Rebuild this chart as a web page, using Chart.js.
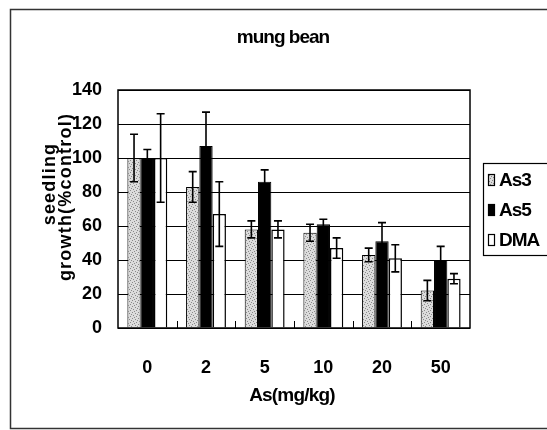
<!DOCTYPE html>
<html>
<head>
<meta charset="utf-8">
<script src="https://cdn.jsdelivr.net/npm/chart.js@4.4.0/dist/chart.umd.min.js"></script>
<style>
  html, body { margin: 0; padding: 0; background: #fff; }
  #wrap { width: 547px; height: 430px; position: relative; }
</style>
</head>
<body>
<div id="wrap"><canvas id="chart" width="547" height="430"></canvas></div>
<script>
/* data */
const doses = ["0", "2", "5", "10", "20", "50"];
const as3 = [100, 83, 58, 56, 43, 22];
const as3Err = [14, 9, 5, 5, 4, 6];
const as5 = [100, 107, 86, 61, 51, 40];
const as5Err = [5, 20, 7, 3, 11, 8];
const dma = [100, 67, 58, 47, 41, 29];
const dmaErr = [26, 19, 5, 6, 8, 3];
const yTicks = [0, 20, 40, 60, 80, 100, 120, 140];

const FONT = "'Liberation Sans', Arial, sans-serif";

/* stippled grey for As3 */
function stipple(){
  const c = document.createElement("canvas");
  c.width = 6; c.height = 6;
  const g = c.getContext("2d");
  g.fillStyle = "#dcdcdc";
  g.fillRect(0, 0, 6, 6);
  g.fillStyle = "#8a8a8a";
  [[0,0],[3,1],[1,3],[4,4],[2,5],[5,2]].forEach(p => g.fillRect(p[0], p[1], 1, 1));
  return g.createPattern(c, "repeat");
}
const as3Fill = stipple();

const errs = [as3Err, as5Err, dmaErr];

const decor = {
  id: "decor",
  beforeDraw(chart){
    const ctx = chart.ctx;
    ctx.save();
    ctx.fillStyle = "#fff";
    ctx.fillRect(0, 0, chart.width, chart.height);
    // outer frame
    ctx.strokeStyle = "#333";
    ctx.lineWidth = 1.5;
    ctx.strokeRect(10.5, 9.5, 560, 419);
    ctx.restore();
  },
  afterDatasetsDraw(chart){
    const ctx = chart.ctx;
    const y = chart.scales.y;
    const x = chart.scales.x;
    const a = chart.chartArea;
    ctx.save();
    // error bars
    ctx.strokeStyle = "#000";
    ctx.lineWidth = 1.6;
    chart.data.datasets.forEach((ds, di) => {
      const meta = chart.getDatasetMeta(di);
      meta.data.forEach((bar, i) => {
        const v = ds.data[i], e = errs[di][i];
        const top = y.getPixelForValue(v + e);
        const bot = y.getPixelForValue(v - e);
        ctx.beginPath();
        ctx.moveTo(bar.x, top); ctx.lineTo(bar.x, bot);
        ctx.moveTo(bar.x - 4, top); ctx.lineTo(bar.x + 4, top);
        ctx.moveTo(bar.x - 4, bot); ctx.lineTo(bar.x + 4, bot);
        ctx.stroke();
      });
    });
    // small tick marks between categories
    ctx.lineWidth = 1;
    for(let i = 0; i < doses.length - 1; i++){
      const px = Math.round((x.getPixelForValue(i) + x.getPixelForValue(i + 1)) / 2) + 0.5;
      ctx.beginPath();
      ctx.moveTo(px, a.bottom); ctx.lineTo(px, a.bottom - 7);
      ctx.stroke();
    }
    // plot frame
    ctx.lineWidth = 1.5;
    ctx.strokeRect(a.left, a.top, a.right - a.left, a.bottom - a.top);
    ctx.restore();
  },
  afterDraw(chart){
    const ctx = chart.ctx;
    ctx.save();
    ctx.fillStyle = "#000";
    ctx.textBaseline = "middle";
    ctx.textAlign = "center";
    // title
    ctx.font = "bold 19px " + FONT;
    ctx.letterSpacing = "-1px";
    ctx.fillText("mung bean", 283, 38);
    // x title
    ctx.font = "bold 19px " + FONT;
    ctx.letterSpacing = "-0.8px";
    ctx.fillText("As(mg/kg)", 292, 396);
    // y title, two lines
    ctx.font = "bold 18px " + FONT;
    ctx.letterSpacing = "1.2px";
    ctx.save();
    ctx.translate(50, 184);
    ctx.rotate(-Math.PI / 2);
    ctx.fillText("seedling", 0, 0);
    ctx.restore();
    ctx.save();
    ctx.translate(66, 197);
    ctx.rotate(-Math.PI / 2);
    ctx.fillText("growth(%control)", 0, 0);
    ctx.restore();
    // legend
    ctx.letterSpacing = "0px";
    ctx.lineWidth = 1.2;
    ctx.strokeStyle = "#000";
    ctx.strokeRect(483.5, 163.5, 80, 92);
    ctx.textAlign = "left";
    ctx.font = "bold 19px " + FONT;
    ctx.letterSpacing = "-1px";
    chart.data.datasets.forEach((ds, i) => {
      const cy = 180 + i * 30;
      ctx.fillStyle = ds.backgroundColor;
      ctx.fillRect(488, cy - 6, 7, 12);
      ctx.strokeRect(488.5, cy - 5.5, 6, 11);
      ctx.fillStyle = "#000";
      ctx.fillText(ds.label, 499, cy + 1);
    });
    ctx.restore();
  }
};

new Chart(document.getElementById("chart"), {
  type: "bar",
  data: {
    labels: doses,
    datasets: [
      { label: "As3", data: as3, backgroundColor: as3Fill, borderColor: "#000", borderWidth: 1 },
      { label: "As5", data: as5, backgroundColor: "#000", borderColor: "#000", borderWidth: 1 },
      { label: "DMA", data: dma, backgroundColor: "#fff", borderColor: "#000", borderWidth: 1.5 }
    ]
  },
  options: {
    responsive: false,
    animation: false,
    layout: { padding: { left: 0, right: 77, top: 90, bottom: 57 } },
    datasets: { bar: { barPercentage: 1, categoryPercentage: 0.68 } },
    plugins: {
      legend: { display: false },
      tooltip: { enabled: false }
    },
    scales: {
      x: {
        afterFit(s){ s.height = 45; },
        grid: { display: false },
        border: { display: false },
        ticks: { color: "#000", padding: 21, font: { family: FONT, size: 18, weight: "bold" } }
      },
      y: {
        min: 0,
        max: 140,
        afterFit(s){ s.width = 118; },
        afterBuildTicks(s){ s.ticks = yTicks.map(v => ({ value: v })); },
        grid: { color: "#000", lineWidth: 1, drawTicks: false },
        border: { display: false },
        ticks: { color: "#000", padding: 16, font: { family: FONT, size: 18, weight: "bold" } }
      }
    }
  },
  plugins: [decor]
});
</script>
</body>
</html>
